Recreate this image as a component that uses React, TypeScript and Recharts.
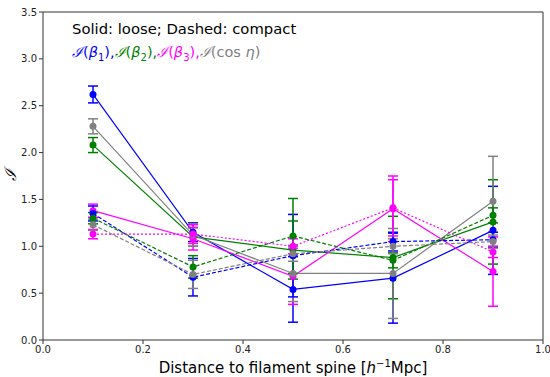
import React from 'react'
import { LineChart, Line, XAxis, YAxis, ErrorBar, ReferenceLine } from 'recharts'

const distance = [0.1, 0.3, 0.5, 0.7, 0.9]

// loose (solid)
const b1Loose = [2.62, 1.15, 0.54, 0.66, 1.17]
const b1LooseErr = [0.09, 0.1, 0.35, 0.48, 0.47]
const b2Loose = [2.08, 1.1, 0.96, 0.88, 1.26]
const b2LooseErr = [0.08, 0.1, 0.31, 0.44, 0.45]
const b3Loose = [1.38, 1.08, 0.68, 1.4, 0.73]
const b3LooseErr = [0.07, 0.12, 0.3, 0.35, 0.37]
const cosLoose = [2.28, 1.12, 0.71, 0.71, 1.48]
const cosLooseErr = [0.08, 0.12, 0.3, 0.48, 0.48]

// compact (dashed)
const b1Compact = [1.35, 0.67, 0.9, 1.05, 1.07]
const b1CompactErr = [0.08, 0.2, 0.44, 0.1, 0.08]
const b2Compact = [1.3, 0.78, 1.11, 0.85, 1.33]
const b2CompactErr = [0.06, 0.12, 0.4, 0.08, 0.08]
const b3Compact = [1.13, 1.13, 1.0, 1.41, 0.94]
const b3CompactErr = [0.05, 0.1, 0.08, 0.3, 0.06]
const cosCompact = [1.23, 0.7, 0.92, 1.0, 1.05]
const cosCompactErr = [0.06, 0.15, 0.08, 0.08, 0.07]

const xTicks = [0, 0.2, 0.4, 0.6, 0.8, 1.0]
const yTicks = [0, 0.5, 1.0, 1.5, 2.0, 2.5, 3.0, 3.5]

const BLUE = '#0000ff'
const GREEN = '#008000'
const MAGENTA = '#ff00ff'
const GRAY = '#808080'

const series = [
  { key: 'b1Loose', vals: b1Loose, errs: b1LooseErr, color: BLUE, dash: undefined },
  { key: 'b2Loose', vals: b2Loose, errs: b2LooseErr, color: GREEN, dash: undefined },
  { key: 'b3Loose', vals: b3Loose, errs: b3LooseErr, color: MAGENTA, dash: undefined },
  { key: 'cosLoose', vals: cosLoose, errs: cosLooseErr, color: GRAY, dash: undefined },
  { key: 'b1Compact', vals: b1Compact, errs: b1CompactErr, color: BLUE, dash: '4 2' },
  { key: 'b2Compact', vals: b2Compact, errs: b2CompactErr, color: GREEN, dash: '4 2' },
  { key: 'b3Compact', vals: b3Compact, errs: b3CompactErr, color: MAGENTA, dash: '2 2' },
  { key: 'cosCompact', vals: cosCompact, errs: cosCompactErr, color: GRAY, dash: '4 2' },
]

const data = distance.map((d, i) => {
  const row: Record<string, number> = { d }
  series.forEach(s => {
    row[s.key] = s.vals[i]
    row[s.key + 'Err'] = s.errs[i]
  })
  return row
})

const FONT = '"DejaVu Sans", sans-serif'
const MATH = '"DejaVu Serif", serif'
const tick = { fontSize: 10, fill: '#222', fontFamily: FONT }

export default function App() {
  return (
    <div style={{ position: 'absolute', left: 0, top: 0, width: 550, height: 377, background: '#fff', fontFamily: FONT }}>
      <LineChart width={550} height={377} data={data} margin={{ top: 12, right: 7, left: 0, bottom: 0 }}>
        <XAxis
          dataKey="d" type="number" domain={[0, 1]} ticks={xTicks}
          tickFormatter={(v: number) => v.toFixed(1)}
          tick={tick} tickSize={4} height={37}
          stroke="#333" interval={0}
        />
        <YAxis
          type="number" domain={[0, 3.5]} ticks={yTicks}
          tickFormatter={(v: number) => v.toFixed(1)}
          tick={tick} tickSize={4} width={43}
          stroke="#333" interval={0}
        />
        <ReferenceLine y={3.5} stroke="#333" />
        <ReferenceLine x={1} stroke="#333" />
        {series.map(s => (
          <Line
            key={s.key}
            dataKey={s.key}
            stroke={s.color}
            strokeWidth={1.2}
            strokeDasharray={s.dash}
            dot={{ r: 3.5, fill: s.color, stroke: 'none', strokeDasharray: '0' }}
            isAnimationActive={false}
          >
            <ErrorBar dataKey={s.key + 'Err'} width={5} stroke={s.color} strokeWidth={1.5} direction="y" />
          </Line>
        ))}
      </LineChart>
      <div style={{ position: 'absolute', left: 72, top: 20, fontSize: 14.8, color: '#000', whiteSpace: 'nowrap' }}>
        Solid: loose; Dashed: compact
      </div>
      <div style={{ position: 'absolute', left: 72, top: 41, fontSize: 14.5, whiteSpace: 'nowrap' }}>
        <span style={{ color: BLUE }}><i style={{ fontFamily: MATH }}>ℐ</i>(<i>β</i><sub style={{ fontSize: 10 }}>1</sub>),</span>
        <span style={{ color: GREEN }}><i style={{ fontFamily: MATH }}>ℐ</i>(<i>β</i><sub style={{ fontSize: 10 }}>2</sub>),</span>
        <span style={{ color: MAGENTA }}><i style={{ fontFamily: MATH }}>ℐ</i>(<i>β</i><sub style={{ fontSize: 10 }}>3</sub>),</span>
        <span style={{ color: GRAY }}><i style={{ fontFamily: MATH }}>ℐ</i>(cos <i>η</i>)</span>
      </div>
      <div style={{ position: 'absolute', left: 4, top: 164, fontSize: 16, transform: 'rotate(-90deg)', fontStyle: 'italic', fontFamily: MATH }}>
        ℐ
      </div>
      <div style={{ position: 'absolute', left: 43, width: 500, top: 358, textAlign: 'center', fontSize: 15, whiteSpace: 'nowrap' }}>
        Distance to filament spine [<i>h</i><sup style={{ fontSize: 10 }}>−1</sup>Mpc]
      </div>
    </div>
  )
}
